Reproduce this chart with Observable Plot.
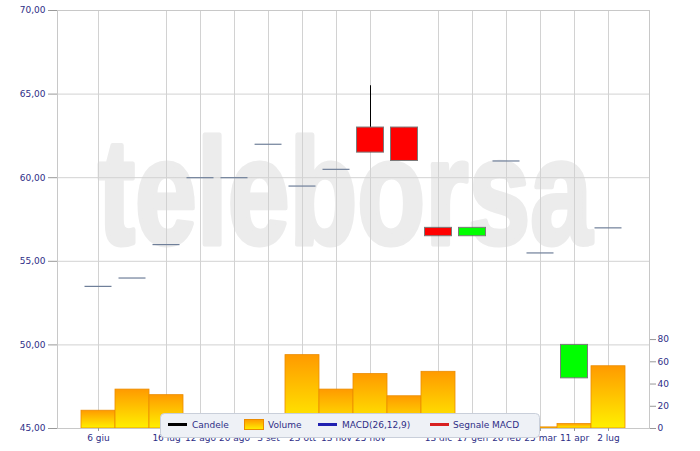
<!DOCTYPE html>
<html><head><meta charset="utf-8">
<script src="https://cdn.jsdelivr.net/npm/d3@7"></script>
<script src="https://cdn.jsdelivr.net/npm/@observablehq/plot@0.6"></script>
<style>
body{margin:0;background:#fff;}
#chart{position:relative;width:700px;height:451px;overflow:hidden;}
</style>
</head><body><div id="chart"></div>
<script>
// ---- data ----
const dates = ["6 giu","27 giu","16 lug","12 ago","20 ago","3 set","23 ott","13 nov","25 nov","4 dic","13 dic","17 gen","26 feb","25 mar","11 apr","2 lug"];
const tickDates = ["6 giu","16 lug","12 ago","20 ago","3 set","23 ott","13 nov","25 nov","13 dic","17 gen","26 feb","25 mar","11 apr","2 lug"];
const open  = [53.5,54.0,56.0,60.0,60.0,62.0,59.5,60.5,63.0,63.0,57.0,56.5,61.0,55.5,48.0,57.0];
const close = [53.5,54.0,56.0,60.0,60.0,62.0,59.5,60.5,61.5,61.0,56.5,57.0,61.0,55.5,50.0,57.0];
const high  = [53.5,54.0,56.0,60.0,60.0,62.0,59.5,60.5,65.5,63.0,57.0,57.0,61.0,55.5,50.0,57.0];
const low   = [53.5,54.0,56.0,60.0,60.0,62.0,59.5,60.5,61.5,61.0,56.5,56.5,61.0,55.5,48.0,57.0];
const volume = [16,35,30,1,1,1,66,35,49,29,51,2,1,1,4,56];
const priceTicks = [45,50,55,60,65,70];
const volumeTicks = [0,20,40,60,80];
const priceDomain = [45,70];
const volumeAxisMax = 376; // volume value reached at the top of the price axis
const legendLabels = ["Candele","Volume","MACD(26,12,9)","Segnale MACD"];
const legendColors = ["#000000","gradient","#2020b0","#d82020"];

// ---- build ----
const volToY = v => priceDomain[0] + v*(priceDomain[1]-priceDomain[0])/volumeAxisMax;
const data = dates.map((d,i)=>({date:d, open:open[i], close:close[i], high:high[i], low:low[i], vol:volume[i]}));
const volLabel = new Map(volumeTicks.map(v=>[volToY(v), String(v)]));
const navy = "#2e2e86";
const volFill = "#ffaa01";

const svg = Plot.plot({
  width:700, height:451,
  marginLeft:57, marginRight:51, marginTop:10, marginBottom:23,
  style:{fontFamily:"DejaVu Sans, Verdana, sans-serif", fontSize:"9px", color:navy, background:"transparent", overflow:"visible"},
  x:{type:"band", domain:dates, paddingInner:0, paddingOuter:0.5, label:null},
  y:{domain:priceDomain, label:null},
  color:{type:"identity"},
  marks:[
    Plot.gridY(priceTicks, {stroke:"#d2d2d2", strokeOpacity:1}),
    Plot.gridX(tickDates, {stroke:"#d2d2d2", strokeOpacity:1}),
    Plot.barY(data, {x:"date", y1:priceDomain[0], y2:d=>volToY(d.vol), fill:volFill, stroke:"#eb8c00", strokeWidth:0.8}),
    Plot.frame({stroke:"#c8c8c8"}),
    Plot.ruleX(data, {x:"date", y1:"low", y2:"high", stroke:"#000"}),
    Plot.barY(data.filter(d=>d.open!==d.close), {x:"date", y1:"open", y2:"close", fill:d=>d.close>d.open?"#00ff00":"#ff0000", stroke:"#7a7a7a", strokeWidth:1, insetLeft:3.5, insetRight:3.5}),
    Plot.tickY(data.filter(d=>d.open===d.close), {x:"date", y:"close", stroke:"#6f7f99", strokeWidth:1.2, insetLeft:3.5, insetRight:3.5}),
    Plot.axisY(priceTicks, {anchor:"left", tickFormat:d=>d.toFixed(2).replace(".",","), tickSize:9, tickPadding:3, stroke:"#999", fill:navy}),
    Plot.axisY(volumeTicks.map(volToY), {anchor:"right", tickFormat:d=>volLabel.get(d), tickSize:6, tickPadding:2, stroke:"#999", fill:navy}),
    Plot.axisX(tickDates, {anchor:"bottom", tickSize:3, tickPadding:3, stroke:"#999", fill:navy})
  ]
});

const ns = "http://www.w3.org/2000/svg";
// gradient defs
const defs = document.createElementNS(ns,"defs");
defs.innerHTML = `<linearGradient id="volgrad" x1="0" y1="0" x2="0" y2="1">
  <stop offset="0" stop-color="#ff9a00"/><stop offset="1" stop-color="#fff000"/></linearGradient>`;
svg.insertBefore(defs, svg.firstChild);
svg.querySelectorAll(`[fill="${volFill}"]`).forEach(r=>r.setAttribute("fill","url(#volgrad)"));

// watermark behind everything
const firstG = svg.querySelector("g");
const wm = document.createElementNS(ns,"text");
wm.setAttribute("x",98); wm.setAttribute("y",244);
wm.setAttribute("text-anchor","start");
wm.setAttribute("font-family","Liberation Sans, Arial, sans-serif");
wm.setAttribute("font-weight","bold");
wm.setAttribute("font-size","150");
wm.setAttribute("fill","#ececec");
wm.setAttribute("stroke","#ececec");
wm.setAttribute("stroke-width","5");
wm.setAttribute("stroke-linejoin","round");
wm.setAttribute("textLength","494");
wm.setAttribute("lengthAdjust","spacingAndGlyphs");
wm.textContent = "teleborsa";
svg.insertBefore(wm, firstG);

// legend
const lg = d3.select(svg).append("g").attr("font-family","DejaVu Sans, Verdana, sans-serif").attr("font-size",9).attr("text-anchor","start");
lg.append("rect").attr("x",160.5).attr("y",413.5).attr("width",379).attr("height",24).attr("rx",4)
  .attr("fill","#eef1f6").attr("stroke","#c9cfda");
const itemX = [168, 244, 318, 430];
const textX = [192, 268, 342, 453];
legendLabels.forEach((lab,i)=>{
  if (legendColors[i]==="gradient") {
    lg.append("rect").attr("x",itemX[i]+0.5).attr("y",419.5).attr("width",19).attr("height",10)
      .attr("fill","url(#volgrad)").attr("stroke","#eb8c00");
  } else {
    lg.append("line").attr("x1",itemX[i]).attr("x2",itemX[i]+19).attr("y1",424.5).attr("y2",424.5)
      .attr("stroke",legendColors[i]).attr("stroke-width",3);
  }
  lg.append("text").attr("x",textX[i]).attr("y",424.5).attr("dy","0.35em").attr("fill",navy).text(lab);
});

document.getElementById("chart").appendChild(svg);
</script>
</body></html>
